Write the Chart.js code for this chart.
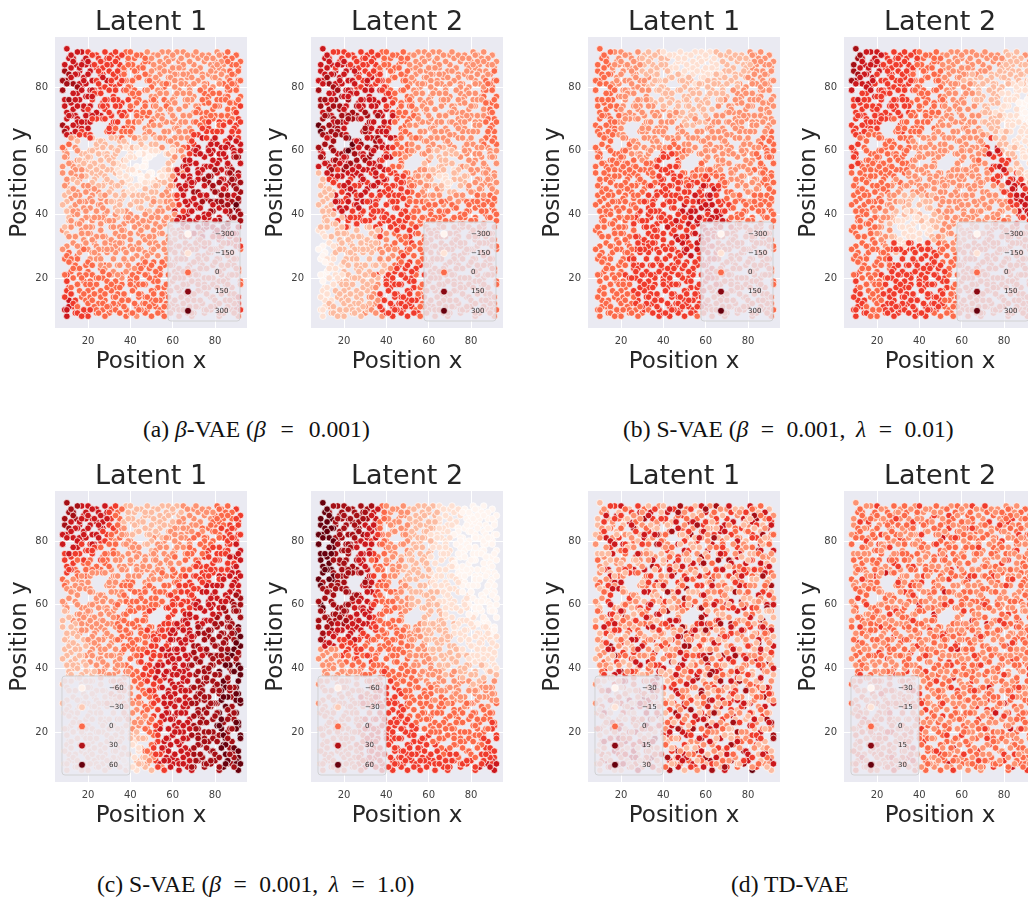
<!DOCTYPE html>
<html>
<head>
<meta charset="utf-8">
<title>Latent traversals</title>
<script src="https://cdn.jsdelivr.net/npm/chart.js@4"></script>
<style>
  html, body { margin: 0; padding: 0; background: #fff; width: 1028px; height: 897px; overflow: hidden; }
  canvas { position: absolute; filter: blur(0.3px); }
  .cap { position: absolute; white-space: nowrap; font-family: "Liberation Serif", serif; font-size: 23.6px; color: #111; }
  .eq { margin: 0 6.5px; }
  .eq.wide { margin: 0 9px; }
</style>
</head>
<body>
<div class="cap" style="left:143px;top:416px">(a) <i>β</i>-VAE (<i>β</i> <span class="eq wide">=</span> 0.001)</div>
<div class="cap" style="left:623px;top:416px">(b) S-VAE (<i>β</i> <span class="eq">=</span> 0.001, &thinsp;<i>λ</i> <span class="eq">=</span> 0.01)</div>
<div class="cap" style="left:97px;top:871px">(c) S-VAE (<i>β</i> <span class="eq">=</span> 0.001, &thinsp;<i>λ</i> <span class="eq">=</span> 1.0)</div>
<div class="cap" style="left:731px;top:871px">(d) TD-VAE</div>
<script>
// tick labels and legend entries
var xTicks = [20, 40, 60, 80];
var yTicks = [20, 40, 60, 80];
var legendLarge = ['\u2212300', '\u2212150', '0', '150', '300'];
var legendMid = ['\u221260', '\u221230', '0', '30', '60'];
var legendSmall = ['\u221230', '\u221215', '0', '15', '30'];
var legendColorsA = ['#fff5f0', '#fee3d6', '#fb6a4a', '#8a0812', '#67000d'];
var legendColorsC = ['#fff0e9', '#fdcab5', '#fb6a4a', '#b11218', '#67000d'];

// Reds colormap, indexed by the digits in the latent rows below
var reds = ['#fff5f0', '#fee0d2', '#fcbba1', '#fc9272', '#fb6a4a', '#ef3b2c', '#cb181d', '#a50f15', '#67000d'];

// sample positions, same in every panel
var posX = [
  [10,13,17,20,24,28,31,34,38,40,45,48,51,55,58,62,65,70,72,77,81,83,86,90],
  [11,14,18,22,25,28,31,35,39,42,46,49,54,56,60,63,68,70,75,78,80,84,88,91],
  [9,12,16,19,24,27,30,35,37,41,43,49,52,54,59,62,65,69,72,77,80,82,87,89],
  [10,15,18,22,26,29,33,36,38,44,47,51,53,58,61,64,67,72,74,79,82,86,89,91],
  [8,13,17,19,23,26,31,33,37,40,43,47,51,56,58,63,66,68,74,76,79,84,86,90],
  [8,15,19,21,24,29,32,37,40,42,50,50,54,57,61,65,68,70,75,77,82,85,87,92],
  [9,12,16,21,22,27,29,34,36,41,44,47,52,56,58,61,67,69,72,75,81,82,88,90],
  [12,13,18,20,26,28,33,35,40,43,46,51,53,58,59,65,66,72,73,79,80,86,89,92],
  [10,14,15,19,24,27,31,33,38,42,45,48,51,54,60,61,65,70,74,76,79,84,86,91],
  [8,15,17,21,24,31,32,37,39,44,47,49,54,56,61,63,68,71,75,77,82,84,89,90],
  [10,12,17,19,21,31,29,35,36,40,43,49,51,56,58,63,66,69,72,76,80,83,88,91],
  [11,13,15,22,25,27,33,35,38,44,45,50,52,58,61,64,68,70,74,79,81,86,87,92],
  [9,14,17,22,24,28,31,33,38,40,45,47,53,55,58,61,67,70,72,77,79,84,88,89],
  [10,15,19,21,26,29,32,37,40,42,47,48,51,57,60,65,66,71,75,78,82,85,89,91],
  [8,12,16,20,22,26,31,34,36,42,43,47,50,58,58,63,65,68,74,75,81,83,86,92],
  [8,14,17,22,24,29,33,35,39,44,45,51,54,56,61,63,68,72,73,78,80,86,88,91],
  [10,13,15,21,23,28,29,35,38,40,44,48,53,54,60,61,67,69,72,77,79,84,87,90],
  [11,15,18,20,25,27,31,37,40,42,47,51,52,58,59,65,66,70,75,79,81,85,89,92],
  [9,12,16,19,22,26,31,33,36,41,45,47,51,56,58,62,65,70,74,76,80,83,86,91],
  [12,14,17,21,25,29,33,35,40,44,45,50,54,57,61,63,68,72,73,78,82,84,88,90],
  [10,13,15,20,24,28,29,34,38,40,43,48,52,55,58,61,67,68,72,75,79,82,87,91],
  [11,15,19,22,26,27,32,37,39,43,47,49,53,56,60,65,66,71,75,77,81,86,89,92],
  [9,12,17,19,22,26,31,33,37,42,44,47,51,54,59,63,65,69,74,76,80,84,86,90],
  [8,14,18,21,24,29,33,35,40,44,46,51,54,58,61,64,68,72,73,79,82,85,87,91],
  [10,13,16,20,23,28,31,34,36,40,45,49,52,56,60,62,66,70,72,77,81,83,88,90],
  [11,15,17,22,25,27,33,34,37,43,47,50,53,57,59,65,67,71,75,78,80,86,88,92],
  [9,12,15,19,24,26,29,31,38,41,44,47,51,55,58,61,66,68,73,76,79,82,87,89],
  [12,14,19,20,26,28,32,35,39,44,46,49,54,56,61,63,68,70,74,79,81,84,89,91],
  [10,13,16,21,22,27,30,33,36,40,43,48,52,54,60,62,65,69,72,75,80,83,86,90],
  [11,15,18,22,24,29,33,36,40,42,47,51,53,58,60,64,67,72,75,77,82,85,88,92],
  [10,12,17,20,24,26,31,34,37,41,45,47,51,56,58,63,66,68,73,76,79,84,87,90],
  [11,14,19,21,25,28,32,35,39,44,46,50,55,57,61,65,68,70,74,78,81,85,89,91],
  [9,13,15,19,23,27,30,33,38,42,43,48,52,54,59,62,65,70,72,77,80,83,86,90],
  [10,14,18,20,24,28,31,38,40,43,47,50,55,56,60,63,67,69,75,78,82,84,88,91]
];
var posY = [
  [92,89,91,91,90,91,90,89,91,91,90,91,90,91,91,91,91,90,89,90,91,90,91,90],
  [89,87,88,87,89,88,87,86,88,89,87,88,88,87,89,88,88,87,88,87,88,87,87,86],
  [85,86,85,87,86,84,85,87,85,86,85,84,86,85,85,84,86,85,85,84,85,86,85,84],
  [82,84,83,82,84,82,83,84,82,83,84,82,82,83,84,82,83,82,84,83,82,83,84,82],
  [79,81,80,81,79,80,81,80,82,80,83,79,81,80,81,79,81,80,79,81,80,81,79,80],
  [79,78,77,79,78,76,77,79,78,77,76,77,79,78,77,78,79,77,78,77,78,77,79,77],
  [76,75,76,74,76,75,74,76,75,74,76,75,75,76,74,75,75,76,74,75,76,74,75,75],
  [72,73,73,72,71,73,74,72,73,72,73,74,72,73,72,71,74,73,72,73,71,73,72,74],
  [70,71,70,69,71,70,71,69,71,69,70,71,70,71,69,70,71,69,70,71,70,69,71,70],
  [68,68,67,69,70,68,69,67,68,69,67,68,68,69,67,68,67,69,68,67,69,68,67,68],
  [67,65,66,65,65,65,66,64,66,65,64,66,65,64,66,65,66,64,65,66,64,66,65,66],
  [62,64,63,64,63,63,64,63,62,64,63,62,64,63,62,64,63,62,64,63,62,63,64,62],
  [60,61,59,60,61,59,61,60,61,60,59,61,60,61,59,60,61,60,59,61,60,59,61,60],
  [58,57,59,58,57,59,58,57,59,58,57,59,59,59,57,58,57,59,58,59,57,58,59,58],
  [55,56,55,54,56,55,54,56,55,54,55,56,53,55,56,54,55,56,54,55,56,54,55,56],
  [53,52,54,53,52,54,53,52,54,53,52,51,53,54,52,53,52,54,53,52,54,53,52,53],
  [50,51,50,49,51,50,51,49,50,51,49,50,51,50,49,51,50,49,51,50,49,51,50,49],
  [48,47,49,48,47,49,48,47,49,47,48,49,47,48,49,47,48,47,49,48,47,48,49,47],
  [46,45,46,44,46,45,44,46,45,46,44,46,45,44,46,45,46,44,46,45,44,46,45,44],
  [42,43,44,42,43,44,42,44,43,42,44,43,42,44,42,43,44,42,43,44,42,43,44,42],
  [41,40,41,39,41,40,41,39,41,40,39,41,40,41,39,41,40,41,39,40,41,39,40,41],
  [38,37,39,38,37,39,38,37,38,39,37,38,39,37,38,39,37,38,37,39,38,37,39,38],
  [35,36,35,34,36,35,36,34,35,36,34,36,35,34,36,35,36,34,35,36,34,35,36,34],
  [35,33,32,34,33,32,34,33,32,34,33,32,34,33,32,34,33,32,34,33,32,34,33,32],
  [30,31,30,29,31,30,31,29,31,30,29,31,30,31,29,30,31,29,30,31,29,30,31,30],
  [28,27,29,28,27,29,28,24,29,27,28,29,27,28,29,27,28,29,27,28,29,27,28,29],
  [26,25,26,24,26,25,24,21,25,26,24,26,25,24,26,25,26,24,25,26,24,26,25,26],
  [22,23,24,22,23,24,22,24,23,22,24,23,22,24,22,23,24,22,23,24,22,23,24,22],
  [21,20,21,19,21,20,21,19,21,20,19,21,20,21,19,21,20,19,21,20,19,21,20,21],
  [17,18,19,17,18,19,17,18,19,17,18,19,17,18,19,17,18,19,18,17,19,18,17,19],
  [16,15,14,16,15,14,16,15,14,16,15,14,16,15,14,16,15,14,16,15,14,16,15,14],
  [13,12,13,14,12,13,14,12,13,14,12,13,14,12,13,12,14,13,12,14,12,13,14,12],
  [10,11,10,9,11,10,9,11,10,9,11,10,11,10,9,11,10,9,11,10,11,9,10,11],
  [8,9,10,8,9,8,10,8,9,8,9,8,9,8,10,8,9,8,9,10,8,9,10,8]
];
// second, in-between pass of samples (the scatter is dense, dots overlap)
var posX2 = [
  [12,15,19,22,26,29,33,36,39,43,47,50,53,57,60,64,67,71,74,79,82,85,88,92],
  [9,13,16,20,23,27,30,33,37,41,44,47,51,54,58,62,65,68,73,76,79,83,86,90],
  [11,14,17,21,25,29,32,34,39,42,46,50,54,56,60,63,67,71,74,78,81,84,88,91],
  [8,12,16,20,24,27,31,35,37,41,44,48,52,55,59,61,65,69,72,75,80,83,87,89],
  [10,15,18,22,25,28,33,36,39,42,49,50,53,57,61,64,68,70,75,78,82,86,88,92],
  [11,13,17,20,23,26,30,34,38,41,44,48,52,54,58,62,66,68,73,76,79,83,86,90],
  [9,14,18,22,26,28,32,35,39,43,47,51,54,57,60,63,67,71,74,77,81,85,89,91],
  [10,12,15,21,24,27,31,33,37,40,45,49,52,55,59,61,65,70,72,76,80,83,87,90],
  [11,15,19,22,20,30,33,36,39,43,46,50,53,57,60,64,68,71,75,78,82,86,88,92],
  [9,13,17,20,22,32,30,34,38,41,44,48,51,55,58,62,66,69,73,77,79,84,87,89],
  [10,14,16,21,28,30,33,36,40,42,47,49,54,56,61,63,67,70,74,76,81,85,88,91],
  [8,12,21,24,26,28,31,35,37,41,45,47,52,55,59,62,65,69,72,78,80,83,86,90],
  [10,15,19,22,25,27,33,34,39,43,46,50,52,58,60,64,68,71,75,77,82,85,89,92],
  [9,13,16,20,23,29,30,36,38,40,44,47,49,60,58,61,66,68,73,76,79,84,87,90],
  [11,14,18,21,26,27,32,34,37,42,46,50,54,58,61,65,67,71,74,78,81,86,88,91],
  [10,12,16,19,24,28,31,35,39,41,45,49,51,55,59,62,65,70,72,75,80,83,87,89],
  [9,15,17,22,25,29,33,36,38,43,47,48,53,56,60,63,68,69,75,77,82,85,88,92],
  [11,13,19,20,23,26,30,34,39,41,44,50,52,57,61,64,66,72,73,79,80,84,86,90],
  [10,14,16,21,26,28,32,35,37,42,46,48,54,55,59,62,67,70,74,76,81,86,89,91],
  [8,13,18,22,24,27,31,36,40,43,45,49,51,58,60,65,66,71,73,78,79,83,87,90],
  [11,15,17,19,25,29,33,34,38,41,47,50,53,56,61,63,68,69,75,77,82,85,88,92],
  [9,12,16,21,23,26,30,35,39,44,46,48,52,57,59,62,65,72,72,76,80,84,86,89],
  [10,14,19,20,26,28,32,36,37,42,45,51,54,55,60,64,67,70,74,79,81,83,89,91],
  [11,13,17,22,24,27,31,33,40,43,47,49,52,58,61,63,66,71,73,75,82,86,87,90],
  [8,15,16,19,25,29,33,35,38,41,44,50,53,56,59,65,68,69,75,77,79,84,88,92],
  [10,12,18,21,23,26,31,29,37,44,46,48,51,57,61,62,66,72,72,78,81,85,86,90],
  [11,14,16,20,26,28,32,28,39,42,47,50,54,55,60,64,67,70,74,76,80,83,89,91],
  [9,13,19,22,24,27,30,36,38,41,45,49,52,58,59,63,65,71,73,79,82,86,87,90],
  [10,15,17,19,25,29,33,34,40,43,44,47,53,56,61,65,68,69,75,77,79,84,88,92],
  [12,12,16,21,23,26,31,35,37,41,46,50,51,57,59,62,66,72,72,76,81,85,86,89],
  [9,14,18,20,26,28,32,33,39,44,47,48,54,55,60,64,67,70,74,79,80,83,89,91],
  [11,13,15,22,24,27,30,36,38,42,45,51,52,58,61,63,65,71,73,75,82,86,87,90],
  [10,15,17,21,25,29,33,35,37,41,44,49,53,56,59,65,68,69,76,78,82,85,89,92]
];
var posY2 = [
  [90,91,89,90,88,89,91,90,89,90,88,89,90,89,90,89,90,91,90,89,90,89,89,88],
  [87,88,86,88,87,86,89,88,86,87,86,89,87,86,88,86,87,88,86,89,86,88,88,87],
  [84,84,87,85,85,87,84,85,87,85,86,85,84,85,86,86,84,85,83,85,87,85,84,85],
  [82,83,81,84,82,83,82,81,84,82,83,82,83,81,83,82,84,83,82,81,83,84,82,81],
  [81,80,82,79,81,80,79,82,80,79,82,80,79,81,80,81,79,81,80,79,81,80,81,82],
  [76,78,79,77,78,78,79,76,79,78,78,79,77,78,75,78,76,78,79,76,78,76,77,79],
  [74,76,74,77,74,76,76,74,76,75,74,76,73,74,76,73,76,74,76,75,74,76,73,76],
  [72,71,74,74,72,74,71,74,72,74,71,72,74,71,73,75,71,72,73,72,74,71,75,72],
  [71,69,71,71,73,72,69,71,69,71,72,69,71,69,71,69,71,72,69,71,68,71,70,69],
  [66,68,69,67,70,66,66,69,66,67,69,66,68,70,66,67,69,66,68,69,66,68,69,67],
  [65,66,65,64,70,67,67,64,66,64,65,66,64,66,64,66,64,65,67,64,66,63,66,64],
  [61,64,60,62,63,62,64,61,63,61,62,64,62,61,63,62,61,63,61,62,64,61,62,63],
  [59,60,57,60,59,61,59,60,58,61,59,60,60,59,61,60,59,60,58,60,59,61,58,60],
  [58,55,57,58,56,58,57,55,57,58,59,55,58,60,54,58,55,57,59,55,57,59,55,58],
  [56,54,56,55,53,55,56,54,55,53,55,53,52,52,54,53,54,56,54,55,53,56,54,52],
  [51,53,51,52,54,52,50,53,51,54,51,53,50,52,51,54,52,50,53,51,54,51,53,51],
  [49,50,52,50,49,51,49,50,52,49,50,52,49,50,52,49,51,50,49,52,50,49,51,50],
  [47,48,47,49,48,46,47,49,47,48,46,47,49,47,46,48,49,47,46,49,47,48,46,48],
  [44,46,44,45,43,46,44,43,46,44,46,45,44,46,44,46,43,45,44,46,44,43,46,45],
  [43,41,42,44,41,42,44,41,43,44,42,41,44,42,43,41,44,43,42,41,43,44,41,43],
  [39,40,38,41,39,38,40,41,39,38,40,39,41,38,40,39,38,41,39,40,38,41,39,40],
  [36,38,37,36,39,37,38,36,39,37,38,36,37,39,36,38,37,36,39,37,38,36,37,39],
  [34,33,36,34,35,33,36,35,33,36,35,33,36,34,35,33,36,34,33,36,35,33,34,36],
  [33,31,34,32,30,33,32,31,34,30,32,33,31,32,34,30,33,31,32,30,33,31,34,32],
  [29,30,28,31,29,28,30,31,28,29,31,28,30,29,31,28,30,29,31,28,29,31,28,30],
  [27,26,29,26,28,26,29,29,26,29,26,27,29,26,28,26,29,27,26,29,26,28,27,26],
  [25,24,23,25,24,23,26,31,24,23,25,24,23,25,24,26,23,25,24,23,25,24,26,23],
  [21,23,21,24,20,22,24,20,22,21,23,20,22,21,24,20,22,21,23,20,22,24,21,23],
  [19,18,20,18,20,17,19,21,18,20,18,21,19,17,20,18,21,19,17,20,18,19,21,18],
  [15,17,16,18,15,16,18,17,15,16,18,16,15,18,16,17,15,18,16,15,17,16,18,15],
  [14,13,15,12,14,15,12,14,13,15,12,14,13,15,12,14,13,15,12,14,13,15,12,14],
  [11,12,11,13,10,12,11,13,10,12,10,12,13,11,13,10,12,11,13,10,12,11,13,10],
  [10,9,8,10,9,11,10,9,11,9,10,11,9,11,9,10,11,9,10,11,9,10,9,10]
];

// latent values per sample, as Reds levels 0-8, one string per row of posX/posY
var latentA1 = [
  '666 55555 4443 3333 3333 3444','666 65555 4444 3333 3333 3344','766 65555 4443 3333 3333 3344','766 65655 4443 3333 3333 3344',
  '776 65555 4444 3433 3334 3444','766 65555 4443 3333 3344 4444','666 65555 5444 3433 3344 4444','666 66555 5444 3333 3344 4445',
  '666 65555 4444 3333 3444 4445','766 65555 4433 3333 3445 5555','665 55544 4333 3333 3555 5555','432 22222 2222 2333 4566 6666',
  '332 22222 1111 1223 5666 6666','332 22222 1100 0123 6666 6667','332 22221 1000 0123 6666 6676','333 22221 1100 1126 6667 7677',
  '323 22222 1111 2236 6667 7677','233 33222 1122 2336 6767 7677','233 33322 2222 2335 6676 7767','233 33322 2222 3335 6667 6778',
  '233 33332 3333 3336 6666 7677','233 33333 3333 3336 6666 6777','233 33333 3333 3334 5666 6666','333 33333 3333 3334 4445 5555',
  '333 33333 3333 3344 4444 4445','444 33333 3333 3344 4444 4444','444 43333 3344 4444 4444 4444','444 44433 3444 4444 4444 4444',
  '544 44443 4444 4444 4444 4444','544 44444 4444 4444 4444 4444','554 44444 4444 4444 4444 4445','654 44444 4444 4444 4444 4445',
  '655 54444 4444 4444 4444 4445','655 54444 3344 4444 4444 4444'
];
var latentA2 = [
  '655 55555 4444 3333 3333 3333','665 65555 4444 3333 3333 3333','666 66555 4444 3333 3333 3334','676 66565 5444 3333 3333 3344',
  '676 66565 5444 3333 3333 3344','767 66666 5544 3333 3333 3344','767 67666 6544 3333 3333 3344','677 67676 6544 4333 3333 3344',
  '767 76767 6644 4333 3333 3344','877 67676 6544 3333 3333 3344','777 76767 6644 4333 3333 3344','767 86767 6644 3333 3333 3344',
  '676 87676 6544 3332 2233 3333','767 67676 5643 3332 2223 3333','676 76666 6544 3222 2222 3333','265 66656 6554 3322 1122 3333',
  '256 65666 5555 4332 1122 3333','225 66566 5555 4333 2233 3333','226 56665 5555 4433 3333 4444','226 65655 5555 4444 4444 4444',
  '225 65555 5555 4444 4444 4444','222 55555 5555 4444 4444 4444','122 22222 5555 5444 4444 4444','112 22222 3444 5444 4444 4444',
  '012 22222 3344 4444 4444 4444','012 22222 3345 4444 4444 4444','011 22222 2345 5444 4444 4444','011 22222 2555 5544 4444 4444',
  '011 22223 5555 5444 4444 4444','112 22223 5555 5444 4444 4444','112 22223 5555 5444 4444 4444','122 22233 5555 5444 4444 4444',
  '122 22233 5555 5444 4444 4444','122 22223 5555 5444 4444 4444'
];
var latentB1 = [
  '443 33322 2111 1111 2222 3333','443 33322 2211 1111 1222 2333','443 33322 2211 1111 1222 2333','443 33332 2222 2112 2222 3333',
  '443 33332 2222 2222 2223 3333','444 33332 2222 2222 2233 3333','444 33333 2222 2222 2333 3333','444 33333 3222 2222 3333 3333',
  '444 33333 3332 2223 3333 3333','444 33333 3333 2333 3333 3333','444 33333 3333 3333 3333 3334','444 43333 3343 3333 3333 3344',
  '444 43333 3444 3333 3333 3344','444 44334 5554 3333 3333 3444','444 44444 5554 4444 3333 3444','444 44444 5554 4444 4333 3344',
  '444 44444 5555 5555 4433 3344','444 44445 5555 5566 5433 3344','444 44445 5555 5656 5444 3444','444 44455 5556 5666 5544 4444',
  '444 44455 5555 6656 6544 4444','444 44555 5565 6656 5544 4444','444 44555 5656 5665 5444 4444','444 44555 5565 5655 4444 4444',
  '444 44555 5556 5655 4444 4444','444 44555 5555 6555 4444 4444','444 45555 5555 5555 4444 4444','444 45555 5555 5555 4444 4444',
  '444 45555 5555 5555 4444 4444','444 44555 5555 5554 4444 4444','444 44555 5555 5554 4444 4444','444 44555 5555 5544 4444 4444',
  '444 44445 5555 5544 4444 4444','444 44455 5555 5444 4444 4444'
];
var latentB2 = [
  '766 65555 5444 3333 3333 2223','766 65555 5444 3333 3333 2222','766 65555 4444 3333 3322 2222','766 55555 4444 3332 2222 2222',
  '666 55555 4444 3333 2222 2111','656 55555 4444 3333 2222 1111','555 55555 4444 3333 2222 1100','555 55555 4444 3333 3221 1100',
  '555 55544 4443 3333 3222 1100','555 55544 4443 3333 3222 1111','554 44444 4333 3333 3322 2111','544 44444 3333 3333 3352 2111',
  '544 44444 3333 3333 3356 2211','544 44444 3333 3333 3465 5211','544 44444 3333 3333 3356 5221','444 44443 3333 3333 3335 6521',
  '444 44333 3333 3333 3335 6652','444 44333 3333 3333 3333 5665','444 43332 2223 3333 3333 3566','444 43322 2223 3333 3333 3566',
  '444 33221 1222 3333 3333 3356','444 33211 1122 3333 3334 4455','444 33211 1112 3333 3344 4444','444 33211 1123 3334 4444 4444',
  '444 44215 5554 4334 4444 4444','444 44555 5555 4444 4444 4444','444 44555 5555 4444 4444 4444','444 44555 5555 5444 4444 4444',
  '544 45555 5555 5444 4444 4444','544 45555 5555 5444 4444 4444','554 45555 5555 4444 4444 4444','554 45555 5555 4444 4444 4444',
  '554 45555 5555 4444 4444 4444','554 44555 5544 4444 4444 4444'
];
var latentC1 = [
  '776 66654 2222 2222 3333 4445','776 66654 2222 2222 3333 4445','766 66654 2222 2223 3334 4455','666 66544 3222 2233 3344 4555',
  '666 66543 3322 3333 3444 4555','665 55443 3332 3333 3445 5556','555 55443 3333 3333 4445 5556','554 44433 3333 3334 4455 5566',
  '544 44433 3333 3344 4555 5566','433 33333 4433 3444 5555 6666','333 33333 4444 4445 5556 6666','333 33333 4444 4455 5566 6667',
  '333 33334 4444 4555 5666 6677','233 33334 4444 5555 6666 6777','223 33334 4444 5555 6666 7777','223 33334 4444 5566 6677 7778',
  '223 33334 4445 5566 6677 7778','222 33334 4445 5566 6767 7778','222 33333 4445 5666 6767 7787','222 33333 4455 5666 6777 7787',
  '222 23333 4455 6666 6777 7878','222 22333 3455 6666 6777 7878','222 22233 3445 5666 6777 7878','222 22233 3445 5666 6777 7878',
  '222 22223 3344 5666 6777 7878','222 22223 3344 5666 6777 7878','222 22222 3334 5666 6777 7878','222 22222 2334 5666 6777 8778',
  '222 22222 2224 5666 6777 7878','222 22222 2124 5666 6777 7878','222 22222 2124 5666 6777 7878','222 22222 1123 5666 6777 7878',
  '222 22222 1123 5666 6777 7878','222 22222 1122 3566 6677 7878'
];
var latentC2 = [
  '877 77776 4333 2222 1110 0000','887 77776 4333 2222 1110 0000','887 77766 4333 2222 1100 0000','887 77766 4333 2221 1100 0000',
  '887 77665 4333 2221 1100 0000','887 77665 4333 2221 1100 0000','887 77665 4332 2221 1100 0000','887 77664 4332 2221 1100 0000',
  '887 77664 4332 2221 1100 0000','887 77765 4332 2221 1110 0000','777 77765 4433 2221 1110 0000','777 77665 4433 2222 1111 0000',
  '877 76665 4433 2222 1111 0000','777 76665 4443 3222 2111 0000','777 76665 4443 3222 2111 1000','776 66655 4443 3322 2211 1110',
  '766 66554 4444 3322 2211 1111','665 55544 4444 3322 2221 1111','333 55544 4444 3332 2221 1111','333 44454 4444 3332 2222 1111',
  '333 33444 4444 3333 2222 2211','333 33344 5444 4333 3332 2222','333 33344 5544 4433 3333 2233','333 33344 5554 4443 3333 3333',
  '333 33345 5554 4444 4333 3333','333 33345 5555 4444 4444 4444','333 33345 5555 4444 4444 4444','333 33455 5555 5444 4444 4445',
  '333 33455 5555 5544 4444 4445','333 33455 5555 5554 4444 4455','333 33455 5555 5555 4444 4455','333 33455 5555 5555 5554 4555',
  '333 33455 5555 5555 5555 5566','333 33455 5555 5555 5555 5666'
];
var latentD1 = [
  '235 62546 3257 4263 7352 6342','326 25374 2635 2463 2536 2735','253 46235 6324 6253 4625 3624','342 37252 3562 7325 6342 5263',
  '263 52462 7346 2536 2473 2562','352 63427 2536 3264 6253 4726','236 24536 3625 2374 3526 2453','423 56237 2463 5623 7246 3652',
  '362 42563 5274 2635 4263 5274','236 35246 3652 4327 2563 4262','423 62532 4263 7254 3626 5337','325 24362 5327 2463 5274 2653',
  '253 63425 2463 6252 3647 3526','362 42536 3725 4263 2536 4273','235 37243 5263 6372 4253 6242','426 25362 4637 2536 3724 2563',
  '253 73426 3257 4623 6253 7426','372 52643 2536 7243 5262 4736','236 42573 6254 3627 3452 6253','427 25364 2736 2563 7245 3627',
  '352 74263 5627 3426 5372 4263','236 52437 4263 5726 3254 7362','425 36254 3572 6234 2637 3524','352 42637 2563 4725 3627 2453',
  '263 52473 6254 3267 4253 6372','425 36247 2536 7243 6527 3426','352 42635 7246 3257 2463 7252','263 54273 4625 3672 5342 6374',
  '425 32647 2563 4726 3527 4263','352 64237 5246 3752 6234 5627','236 42573 2647 2563 7246 3527','425 36247 3526 7425 2637 4263',
  '362 52436 7253 4627 3572 6327','235 24623 4762 5327 2647 8532'
];
var latentD1b = [
  '352 43625 2643 5274 3625 4263','263 52436 3527 4632 5263 2745','325 26342 5263 3752 6342 2536','253 42563 2473 5263 2653 4273',
  '362 53246 4325 2637 4263 5324','236 42352 6342 5273 2536 3264','423 52636 2453 6324 6732 5423','352 34263 5236 2473 5264 2536',
  '263 52342 3625 3624 6235 2463','432 62435 2364 6253 3426 5273','256 34253 6724 2536 4253 3642','342 53264 2536 3462 5362 4235',
  '263 42356 4235 2736 4263 5326','425 63242 6325 3462 6253 3472','352 42563 2463 5263 7342 5236','263 53426 3527 3624 2563 4263',
  '325 26342 5263 4273 3526 3642','253 42363 5427 3526 2463 5263','362 53624 2536 4263 5372 3425','235 42635 3426 5374 2653 6342',
  '426 35243 6253 2637 4263 2536','352 63425 2364 3527 3642 5263','263 24536 4253 6342 7253 4263','425 36342 5263 2736 4256 3425',
  '352 42563 3426 5243 6325 2463','263 53246 5273 4263 2536 5342','325 24363 2463 5627 3425 2637','436 25342 5326 2463 6273 5246',
  '253 63524 2637 5342 4263 3527','362 42536 3425 2636 5273 4253','235 36243 5263 4273 2536 6342','423 52634 2736 3425 6342 5263',
  '352 63245 3426 5263 4725 3426'
];
var latentD2 = [
  '343 53434 3534 3343 5343 3434','434 34534 3343 5434 3343 4534','354 34343 5434 3435 4334 3543','443 53434 3345 3433 4534 3434',
  '343 43354 3434 6343 3434 5343','434 53434 3354 3434 5343 3434','343 34345 4334 5434 3343 4534','443 43534 3434 3354 3435 3343',
  '343 53343 4534 3434 6343 4343','434 36434 3343 5436 3434 3534','343 43434 5343 4354 3543 4343','534 34353 4343 6354 3434 3434',
  '343 43434 3653 4343 4534 3343','434 35343 5463 3434 3343 5434','343 43434 3435 3534 6343 3434','434 53343 4354 3434 3634 3543',
  '343 43534 3434 5343 5343 4343','534 34343 4343 4534 3434 6343','343 43434 5343 3463 4354 3434','434 35343 3434 5343 4343 3534',
  '343 43435 3434 4534 3453 4343','443 34343 4534 3634 3434 3435','343 53434 3343 4343 5343 4343','434 34343 5434 3534 3463 3434',
  '343 43534 3434 4343 4654 3434','434 34343 4534 3434 5343 6434','343 53434 3343 5434 3436 3543','434 34343 5434 3343 5343 4343',
  '343 43534 3345 3434 3534 4643','434 34343 4534 4353 4343 3534','343 53434 3434 3634 3453 4343','434 34345 3435 3434 5343 3534',
  '343 43434 5343 4634 3434 5343','434 34534 3434 3543 4354 4645'
];
var latentD2b = [
  '434 34343 4353 4434 3534 4343','345 43434 5343 3434 4353 3434','434 34534 3434 5343 3435 4343','343 43433 4534 3434 5343 3454',
  '454 34343 3434 4534 3434 3434','343 43534 3435 3434 3534 4353','434 35343 4343 3434 4343 5343','343 43434 5343 4534 3434 3434',
  '434 34534 3434 3435 3453 4343','353 43343 4534 3434 5343 3534','434 34534 3343 4343 3434 5343','343 43434 5434 3534 4343 3434',
  '454 34343 4343 5343 3534 3434','343 43534 3434 3435 4343 4353','434 34343 5343 4343 3435 3434','353 43434 3434 5343 4343 5343',
  '434 34353 4343 3434 3534 3434','343 43434 5343 4534 3343 4534','434 53434 3434 3534 4343 3434','343 43343 4534 3434 5343 4343',
  '434 34534 3343 4343 3534 3435','353 43434 3435 3434 4343 5343','434 34343 5343 4534 3434 3434','343 53434 3434 3434 5343 4353',
  '434 34343 4534 3343 4343 3534','343 43534 3343 5434 3534 3434','454 34343 4343 3434 4343 5343','343 43434 3534 4343 3534 3434',
  '434 35343 4343 5343 4343 4353','343 43434 5434 3434 3534 3434','434 34343 3435 3434 4343 5343','353 43534 3434 4353 3434 3434',
  '434 34343 5343 3434 5343 4343'
];

function buildPoints(rows, rows2) {
  var pts = [], colors = [];
  function addPass(xs, ys, lv) {
    for (var r = 0; r < xs.length; r++) {
      var levels = lv[r].replace(/ /g, '');
      for (var c = 0; c < xs[r].length; c++) {
        pts.push({ x: xs[r][c], y: ys[r][c] });
        colors.push(reds[parseInt(levels.charAt(c) || '4', 10)]);
      }
    }
  }
  addPass(posX, posY, rows);
  addPass(posX2, posY2, rows2 || rows);
  return { pts: pts, colors: colors };
}

// grey plot background like seaborn darkgrid
var plotBackground = {
  id: 'plotBackground',
  beforeDraw: function (chart) {
    var a = chart.chartArea, ctx = chart.ctx;
    ctx.save();
    ctx.fillStyle = '#eaeaf2';
    ctx.fillRect(a.left, a.top, a.right - a.left, a.bottom - a.top);
    ctx.restore();
  }
};

// see-through legend that sits on top of the points
var latentLegend = {
  id: 'latentLegend',
  afterDatasetsDraw: function (chart, args, opts) {
    var a = chart.chartArea, ctx = chart.ctx;
    var left = a.left + opts.left, top = a.top + 185;
    ctx.save();
    ctx.beginPath();
    ctx.roundRect(left, top, opts.width, 99, 3);
    ctx.fillStyle = 'rgba(234,234,242,0.8)';
    ctx.fill();
    ctx.strokeStyle = 'rgba(204,204,204,0.8)';
    ctx.lineWidth = 1;
    ctx.stroke();
    ctx.font = '7px "DejaVu Sans"';
    ctx.textBaseline = 'middle';
    for (var i = 0; i < opts.labels.length; i++) {
      var y = top + 12 + i * 19.2;
      ctx.beginPath();
      ctx.arc(left + 20, y, 3.4, 0, Math.PI * 2);
      ctx.fillStyle = opts.colors[i];
      ctx.fill();
      ctx.strokeStyle = '#fff';
      ctx.lineWidth = 0.6;
      ctx.stroke();
      ctx.fillStyle = '#333';
      ctx.fillText(opts.labels[i], left + 47, y);
    }
    ctx.restore();
  }
};

function addPanel(ox, oy, title, rows, legend, rows2) {
  var cv = document.createElement('canvas');
  cv.width = 255;
  cv.height = 377;
  cv.style.left = ox + 'px';
  cv.style.top = oy + 'px';
  document.body.appendChild(cv);
  var d = buildPoints(rows, rows2);
  new Chart(cv, {
    type: 'scatter',
    data: {
      datasets: [{
        data: d.pts,
        pointBackgroundColor: d.colors,
        pointBorderColor: '#fff',
        pointBorderWidth: 0.7,
        pointRadius: 3.3
      }]
    },
    plugins: [plotBackground, latentLegend],
    options: {
      responsive: false,
      animation: false,
      layout: { padding: { right: 8 } },
      plugins: {
        legend: { display: false },
        tooltip: { enabled: false },
        title: {
          display: true,
          text: title,
          fullSize: false,
          color: '#262626',
          font: { family: 'DejaVu Sans', size: 27, weight: 'normal', lineHeight: 1.06 },
          padding: { top: 8.4, bottom: 0 }
        },
        latentLegend: legend
      },
      scales: {
        x: {
          type: 'linear',
          min: 4.4,
          max: 95.1,
          afterFit: function (s) { s.height = 49; },
          afterBuildTicks: function (s) { s.ticks = xTicks.map(function (v) { return { value: v }; }); },
          grid: { color: '#fff', lineWidth: 1, drawTicks: false },
          border: { display: false },
          ticks: { color: '#404040', padding: 7, maxRotation: 0, font: { family: 'DejaVu Sans', size: 10 } },
          title: { display: true, text: 'Position x', color: '#262626', padding: { top: 0, bottom: 1 }, font: { family: 'DejaVu Sans', size: 23, lineHeight: 1.2 } }
        },
        y: {
          type: 'linear',
          min: 4.3,
          max: 95.7,
          afterFit: function (s) { s.width = 55; },
          afterBuildTicks: function (s) { s.ticks = yTicks.map(function (v) { return { value: v }; }); },
          grid: { color: '#fff', lineWidth: 1, drawTicks: false },
          border: { display: false },
          ticks: { color: '#404040', padding: 7, font: { family: 'DejaVu Sans', size: 10 } },
          title: { display: true, text: 'Position y', color: '#262626', padding: { top: 6, bottom: 0 }, font: { family: 'DejaVu Sans', size: 23, lineHeight: 1.2 } }
        }
      }
    }
  });
}

var legendRight = function (labels, colors) { return { left: 113, width: 72, labels: labels, colors: colors }; };
var legendLeft = function (labels, colors) { return { left: 7, width: 68, labels: labels, colors: colors }; };

addPanel(0, 0, 'Latent 1', latentA1, legendRight(legendLarge, legendColorsA));
addPanel(256, 0, 'Latent 2', latentA2, legendRight(legendLarge, legendColorsA));
addPanel(533, 0, 'Latent 1', latentB1, legendRight(legendLarge, legendColorsA));
addPanel(789, 0, 'Latent 2', latentB2, legendRight(legendLarge, legendColorsA));
addPanel(0, 454, 'Latent 1', latentC1, legendLeft(legendMid, legendColorsC));
addPanel(256, 454, 'Latent 2', latentC2, legendLeft(legendMid, legendColorsC));
addPanel(533, 454, 'Latent 1', latentD1, legendLeft(legendSmall, legendColorsA), latentD1b);
addPanel(789, 454, 'Latent 2', latentD2, legendLeft(legendSmall, legendColorsA), latentD2b);
</script>
</body>
</html>
